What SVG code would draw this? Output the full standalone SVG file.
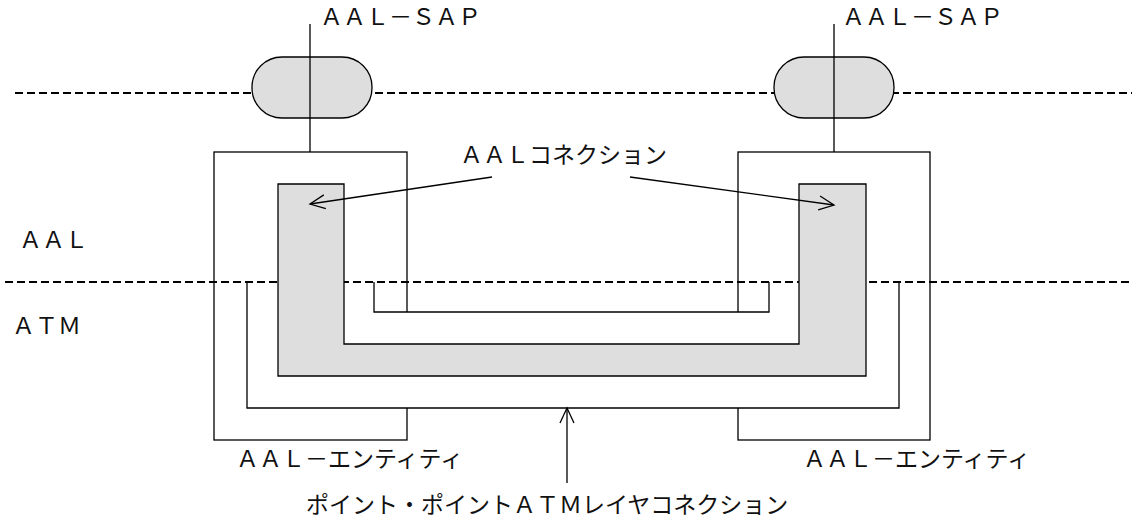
<svg xmlns="http://www.w3.org/2000/svg" width="1136" height="522" viewBox="0 0 1136 522">
<style>
.ln{fill:none;stroke:#000;stroke-width:1.3}
.dash{fill:none;stroke:#000;stroke-width:1.8;stroke-dasharray:8 4}
.gray{fill:#dedede;stroke:#000;stroke-width:1.3}
.box{fill:#fff;stroke:#000;stroke-width:1.3}
.t{font-family:"Noto Sans CJK JP","Noto Sans CJK SC",sans-serif;font-size:23px;fill:#111}
</style>
<defs>
<marker id="arr" viewBox="-17 -9 19 18" markerWidth="19" markerHeight="18" markerUnits="userSpaceOnUse" refX="0" refY="0" orient="auto">
<path d="M-15,-7 L0,0 L-15,7" fill="none" stroke="#000" stroke-width="1.3"/>
</marker>
</defs>
<rect width="1136" height="522" fill="#fff"/>
<g id="layers">
<line class="dash" x1="15" y1="93" x2="1132" y2="93"/>
</g>
<g id="sap-left">
<rect class="gray" x="252" y="57" width="120" height="61" rx="30" ry="30"/>
<line class="ln" x1="310" y1="24" x2="310" y2="152"/>
</g>
<g id="sap-right">
<rect class="gray" x="774" y="57" width="120" height="61" rx="30" ry="30"/>
<line class="ln" x1="834" y1="24" x2="834" y2="152"/>
</g>
<g id="entity-left">
<rect class="box" x="214" y="152" width="193" height="288"/>
</g>
<g id="entity-right">
<rect class="box" x="738" y="152" width="192" height="288"/>
</g>
<g id="atm-connection">
<path d="M247,283 V408 H899 V283 H769 V312 H374 V283 Z" fill="#fff" stroke="none"/>
<path class="ln" d="M247,282 V408 H899 V282"/>
<path class="ln" d="M374,282 V312 H769 V282"/>
</g>
<g id="layer-boundary">
<line class="dash" x1="5" y1="282" x2="1132" y2="282"/>
</g>
<g id="aal-connection">
<path class="gray" d="M278,184 V376 H866 V184 H799 V344 H344 V184 Z"/>
</g>
<g id="connectors">
<line class="ln" x1="492" y1="177" x2="310" y2="204" marker-end="url(#arr)"/>
<line class="ln" x1="630" y1="177" x2="834" y2="205" marker-end="url(#arr)"/>
<line class="ln" x1="567" y1="483" x2="567" y2="408" marker-end="url(#arr)"/>
</g>
<g id="labels">
<text class="t" x="320" y="25">ＡＡＬ－ＳＡＰ</text>
<text class="t" x="842" y="25">ＡＡＬ－ＳＡＰ</text>
<text class="t" x="460" y="163">ＡＡＬコネクション</text>
<text class="t" x="19" y="248">ＡＡＬ</text>
<text class="t" x="12" y="334">ＡＴＭ</text>
<text class="t" x="236" y="467">ＡＡＬ－エンティティ</text>
<text class="t" x="803" y="467">ＡＡＬ－エンティティ</text>
<text class="t" x="306" y="513">ポイント・ポイントＡＴＭレイヤコネクション</text>
</g>
</svg>
